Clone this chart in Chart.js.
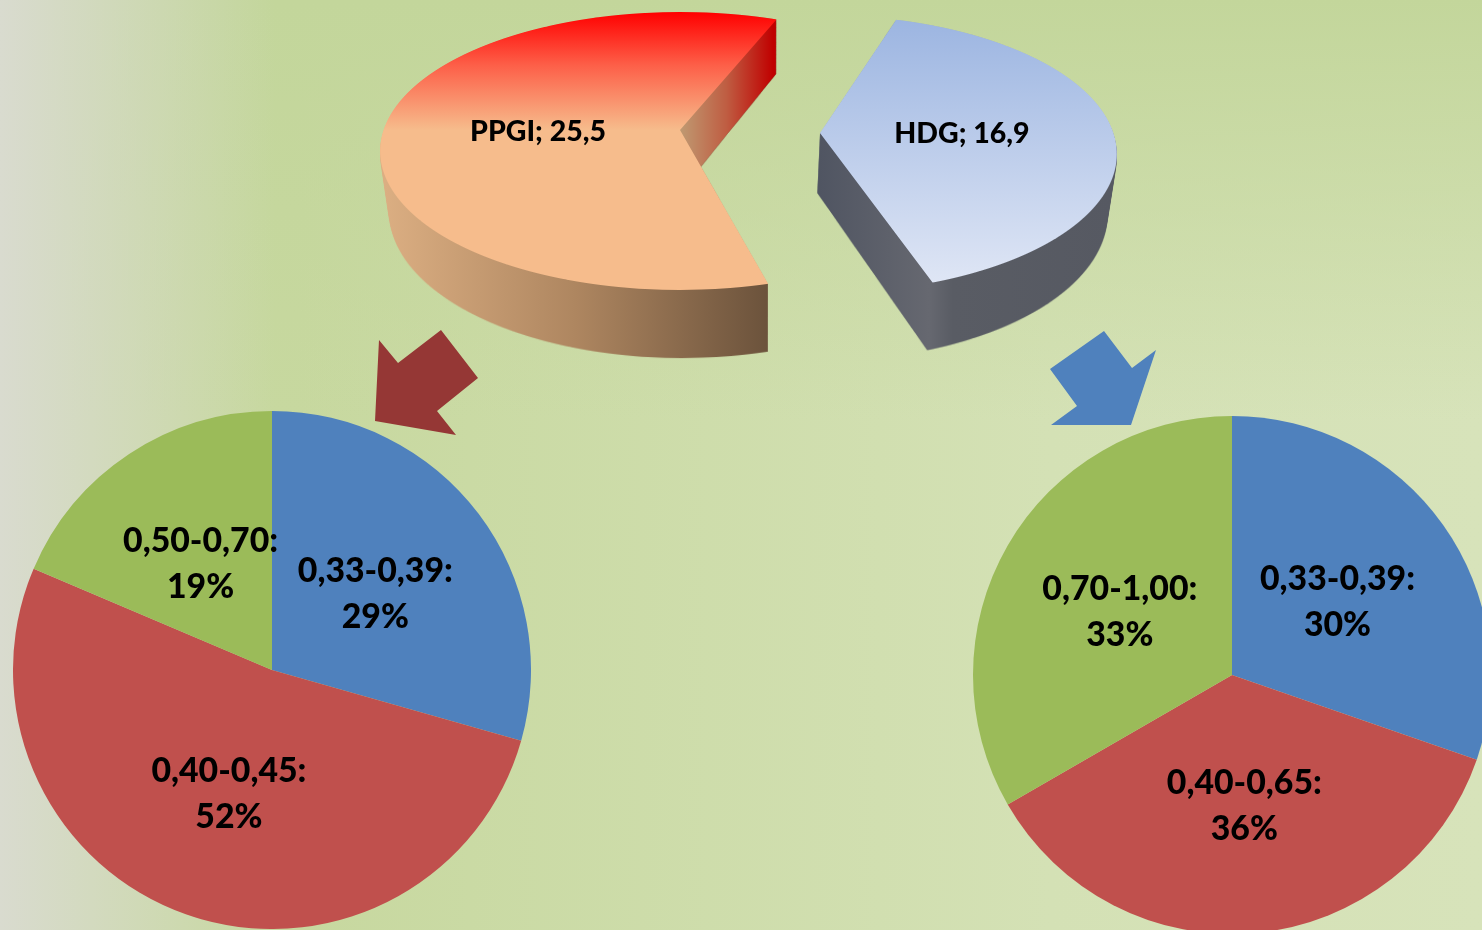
<!DOCTYPE html>
<html lang="en">
<head>
    <meta charset="UTF-8">
    <title>PPGI / HDG</title>
    <script src="https://cdn.jsdelivr.net/npm/chart.js"></script>
    <style>
        html, body { margin: 0; height: 100%; overflow: hidden; }
        body {
            width: 1482px; height: 930px; position: relative;
            background:
                linear-gradient(90deg, #d9dbcf 0, rgba(198, 215, 160, 0) 275px),
                linear-gradient(180deg, #c3d69b 0, rgba(195, 214, 155, 0) 420px),
                linear-gradient(90deg, #c7d89f 300px, #d4e1b5 1050px, #d7e3ba 100%);
        }
        canvas, svg { position: absolute; display: block; }
        #topChart { left: 0; top: 0; }
        #leftChart { left: 13px; top: 411px; }
        #rightChart { left: 973px; top: 416px; }
        svg { left: 0; top: 0; }
    </style>
</head>
<body>
<svg width="1482" height="930">
    <polygon fill="#953735" points="441,330 478,378 437,411 456,435 375,421 379,340 398,363"/>
    <polygon fill="#4f81bd" points="1104,331 1132,368 1156,350 1131,425 1051,425 1077,406 1050,369"/>
</svg>
<canvas id="topChart" width="1482" height="930"></canvas>
<canvas id="leftChart" width="518" height="518"></canvas>
<canvas id="rightChart" width="518" height="518"></canvas>

<script>
    // values
    const coatings = ['HDG', 'PPGI'];
    const coatingValues = [16.9, 25.5];

    const ppgiRanges = ['0,33-0,39', '0,40-0,45', '0,50-0,70'];
    const ppgiShares = [29.4, 52, 18.6];

    const hdgRanges = ['0,33-0,39', '0,40-0,65', '0,70-1,00'];
    const hdgShares = [30, 36, 33];

    const pieColors = ['#4f81bd', '#c0504d', '#9bbb59'];

    // geometry of the tilted 3D pie, in page pixels
    const centerX = 750, apexY = 130, explode = 70;
    const planeRx = [293.6, 296.6], planeRy = 135.8, tilt = 0.151;
    const farY = -118, nearY = 160;
    const sliceTwist = [0.3 * Math.PI / 180, 4.8 * Math.PI / 180];
    const sliceDrop = [3, 0];
    const wallDrift = [-0.04, 0.03];

    const W = 1482, H = 930;
    function newLayer() {
        const c = document.createElement('canvas');
        c.width = W;
        c.height = H;
        return c;
    }
    const layer = newLayer();
    const lctx = layer.getContext('2d');

    function hGradient(x0, x1, stops) {
        const g = lctx.createLinearGradient(x0, 0, x1, 0);
        stops.forEach(s => g.addColorStop(s[0], s[1]));
        return g;
    }
    function vGradient(y0, y1, stops) {
        const g = lctx.createLinearGradient(0, y0, 0, y1);
        stops.forEach(s => g.addColorStop(s[0], s[1]));
        return g;
    }

    function apexX(el) {
        return centerX + Math.cos((el.startAngle + el.endAngle) / 2) * explode;
    }

    // canvas has no perspective transform, so the arc is drawn one pixel row at a time
    function faceShape(el, i) {
        const face = newLayer();
        const c = face.getContext('2d');
        const ax = apexX(el);
        const ay = apexY + sliceDrop[i];
        const r = el.outerRadius;
        for (let d = farY - 4; d <= nearY + 4; d++) {
            const v = d / (planeRy + tilt * d);
            const w = 1 / (1 - tilt * v);
            c.save();
            c.beginPath();
            c.rect(0, ay + d, W, 1);
            c.clip();
            c.translate(ax, ay + d);
            c.scale(planeRx[i] * w / r, planeRy * w * w / r);
            c.translate(0, -v * r);
            c.rotate(sliceTwist[i]);
            c.translate(-el.x, -el.y);
            el.draw(c);
            c.restore();
        }
        return face;
    }

    // silhouette of the shape, coloured in page space
    function paint(ctx, shape, fill, clip) {
        lctx.globalCompositeOperation = 'source-over';
        lctx.clearRect(0, 0, W, H);
        shape(lctx);
        lctx.globalCompositeOperation = 'source-in';
        lctx.fillStyle = fill;
        lctx.fillRect(0, 0, W, H);
        ctx.save();
        if (clip) {
            ctx.beginPath();
            ctx.rect(clip[0], clip[1], clip[2], clip[3]);
            ctx.clip();
        }
        ctx.drawImage(layer, 0, 0);
        ctx.restore();
    }

    // the wall is the face repeated downwards, deeper towards the viewer
    function wallShape(face, ax, i) {
        return c => {
            for (let s = 68; s > 0; s--) {
                const f = s / 68;
                const sc = 1 - s * 0.00035;
                c.drawImage(face, ax * (1 - sc) + s * wallDrift[i], 53 * f, W * sc, H * (1 + 0.052 * f));
            }
        };
    }

    const wallFills = [
        hGradient(820, 1115, [[0, '#505562'], [0.37, '#666870'], [0.45, '#595c64'], [1, '#565962']]),
        hGradient(385, 766, [[0, '#dbae82'], [0.5, '#ae8660'], [1, '#6c533c']])
    ];
    const faceFills = [
        vGradient(19, 284, [[0, '#9cb5e1'], [1, '#dfe6f5']]),
        vGradient(12, 130, [[0, '#ff0000'], [0.45, '#fd5f48'], [1, '#f6bc8c']])
    ];
    const cutFill = hGradient(680, 773, [[0, '#bf9a72'], [0.5, '#bf5d42'], [1, '#c00000']]);

    const pie3d = {
        id: 'pie3d',
        beforeDatasetsDraw(chart) {
            const ctx = chart.ctx;
            const arcs = chart.getDatasetMeta(0).data;
            arcs.forEach((el, i) => {
                const face = faceShape(el, i);
                const ax = apexX(el);
                paint(ctx, wallShape(face, ax, i), wallFills[i]);
                if (coatings[i] === 'PPGI') paint(ctx, wallShape(face, ax, i), cutFill, [ax - 5, 0, 200, 200]);
                paint(ctx, c => c.drawImage(face, 0, 0), faceFills[i]);
            });
            ctx.save();
            ctx.fillStyle = '#000';
            ctx.font = '900 28.5px Lato';
            ctx.textAlign = 'center';
            ctx.textBaseline = 'middle';
            arcs.forEach((el, i) => {
                const x = apexX(el) + Math.cos((el.startAngle + el.endAngle) / 2) * 142;
                const text = coatings[i] + '; ' + String(coatingValues[i]).replace('.', ',');
                ctx.fillText(text, x, apexY + 2 + sliceDrop[i] * 0.7);
            });
            ctx.restore();
            return false;
        }
    };

    new Chart(document.getElementById('topChart'), {
        type: 'pie',
        data: {
            labels: coatings,
            datasets: [{ data: coatingValues, backgroundColor: '#000', borderWidth: 0 }]
        },
        options: {
            responsive: false,
            devicePixelRatio: 1,
            animation: false,
            rotation: 17,
            events: [],
            plugins: { legend: { display: false }, tooltip: { enabled: false } }
        },
        plugins: [pie3d]
    });

    const sliceLabels = {
        id: 'sliceLabels',
        afterDatasetsDraw(chart) {
            const ctx = chart.ctx;
            const values = chart.data.datasets[0].data;
            ctx.save();
            ctx.fillStyle = '#000';
            ctx.font = '900 33.8px Lato';
            ctx.textAlign = 'center';
            ctx.textBaseline = 'middle';
            chart.getDatasetMeta(0).data.forEach((el, i) => {
                const p = el.tooltipPosition();
                ctx.fillText(chart.data.labels[i] + ':', p.x, p.y - 21);
                ctx.fillText(Math.round(values[i]) + '%', p.x, p.y + 25);
            });
            ctx.restore();
        }
    };

    function rangePie(id, labels, values) {
        new Chart(document.getElementById(id), {
            type: 'pie',
            data: {
                labels: labels,
                datasets: [{ data: values, backgroundColor: pieColors, borderWidth: 0 }]
            },
            options: {
                responsive: false,
                devicePixelRatio: 1,
                animation: false,
                events: [],
                plugins: { legend: { display: false }, tooltip: { enabled: false } }
            },
            plugins: [sliceLabels]
        });
    }

    rangePie('leftChart', ppgiRanges, ppgiShares);
    rangePie('rightChart', hdgRanges, hdgShares);
</script>
</body>
</html>
